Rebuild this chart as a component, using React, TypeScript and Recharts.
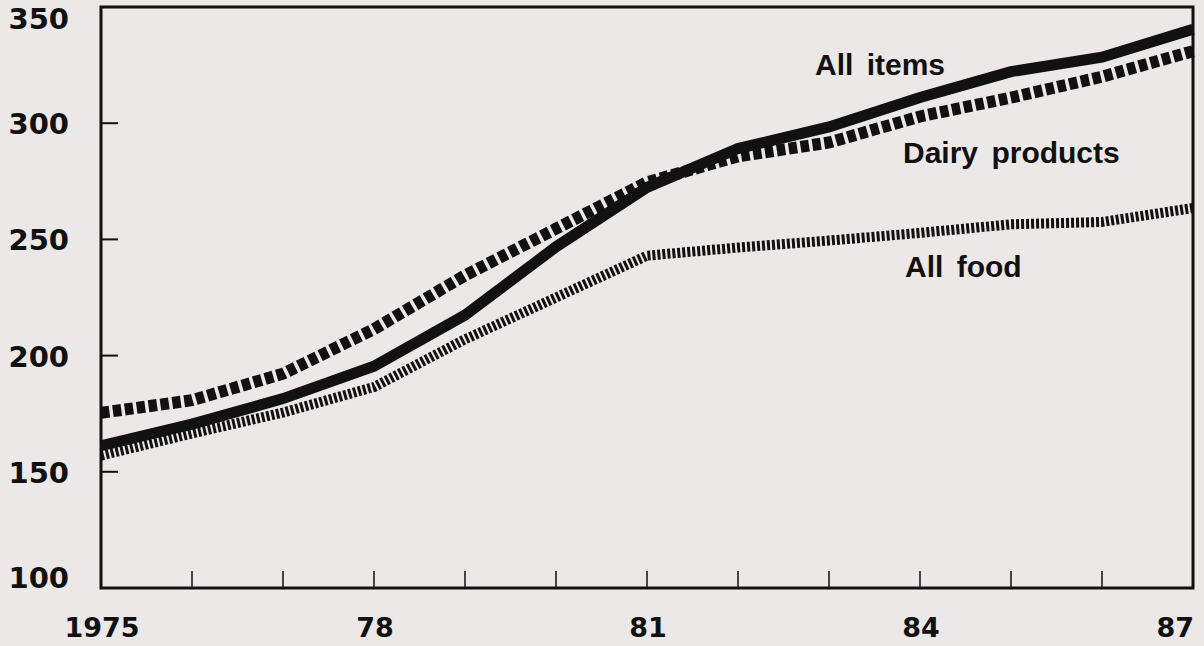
import React from "react";
import { LineChart, Line, XAxis, YAxis, ReferenceArea } from "recharts";

const years = [1975, 1976, 1977, 1978, 1979, 1980, 1981, 1982, 1983, 1984, 1985, 1986, 1987];
const allItems = [161.2, 170.5, 181.5, 195.4, 217.4, 246.8, 272.4, 289.1, 298.4, 311.1, 322.2, 328.4, 340.4];
const dairyProducts = [175.4, 180.8, 192.2, 211.4, 234.5, 254.6, 274.6, 285.7, 291.7, 302.9, 311.0, 320.0, 331.0];
const allFood = [157.0, 166.5, 175.5, 186.5, 207.0, 225.0, 243.0, 246.5, 249.5, 252.8, 256.5, 257.5, 263.5];
const yTicks = [100, 150, 200, 250, 300, 350];
const xTickLabels: Record<number, string> = { 1975: "1975", 1978: "78", 1981: "81", 1984: "84", 1987: "87" };

const data = years.map((y, i) => ({
  year: y,
  items: allItems[i],
  dairy: dairyProducts[i],
  food: allFood[i],
}));

const INK = "#111111";
const TICK_FONT = "'DejaVu Sans', Verdana, sans-serif";

const YTick = (props: any) => {
  const { y, payload } = props;
  const cy = Math.min(Math.max(y, 18), 577);
  return (
    <g>
      <line x1={101} x2={118} y1={y} y2={y} stroke={INK} strokeWidth={2} />
      <text
        x={69}
        y={cy + 11}
        textAnchor="end"
        fill={INK}
        fontFamily={TICK_FONT}
        fontWeight="bold"
        fontSize={29}
      >
        {payload.value}
      </text>
    </g>
  );
};

const XTick = (props: any) => {
  const { x, payload } = props;
  const label = xTickLabels[payload.value];
  if (!label) return <g />;
  const isLast = payload.value === 1987;
  return (
    <text
      x={isLast ? 1194 : x + 1}
      y={637}
      textAnchor={isLast ? "end" : "middle"}
      fill={INK}
      fontFamily={TICK_FONT}
      fontWeight="bold"
      fontSize={27}
    >
      {label}
    </text>
  );
};

const labelStyle: React.CSSProperties = {
  fontFamily: "'Liberation Sans', Arial, sans-serif",
  fontWeight: "bold",
  fontSize: 30,
  wordSpacing: 5,
};

export default function App() {
  return (
    <div
      style={{
        position: "absolute",
        left: 0,
        top: 0,
        width: 1204,
        height: 646,
        background: "#ece8e7",
        overflow: "hidden",
      }}
    >
      <LineChart
        width={1204}
        height={646}
        data={data}
        margin={{ top: 7, right: 11, bottom: 0, left: 0 }}
      >
        <XAxis
          dataKey="year"
          type="number"
          domain={[1975, 1987]}
          ticks={years}
          interval={0}
          height={58}
          axisLine={false}
          tickSize={-17}
          tickLine={{ stroke: INK, strokeWidth: 1.5 }}
          tick={<XTick />}
        />
        <YAxis
          type="number"
          domain={[100, 350]}
          ticks={yTicks}
          interval={0}
          width={101}
          axisLine={false}
          tickLine={false}
          tick={<YTick />}
        />
        <Line
          dataKey="food"
          type="linear"
          stroke={INK}
          strokeWidth={10}
          strokeDasharray="3 2"
          dot={false}
          activeDot={false}
          isAnimationActive={false}
        />
        <Line
          dataKey="dairy"
          type="linear"
          stroke={INK}
          strokeWidth={12}
          strokeDasharray="8.5 3.5"
          dot={false}
          activeDot={false}
          isAnimationActive={false}
        />
        <Line
          dataKey="items"
          type="linear"
          stroke={INK}
          strokeWidth={11}
          dot={false}
          activeDot={false}
          isAnimationActive={false}
        />
        <ReferenceArea
          x1={1975}
          x2={1987}
          y1={100}
          y2={350}
          fill="none"
          fillOpacity={0}
          stroke={INK}
          strokeWidth={3}
          ifOverflow="visible"
        />
      </LineChart>
      <svg
        width={1204}
        height={646}
        style={{ position: "absolute", left: 0, top: 0, pointerEvents: "none" }}
      >
        <text x={815} y={75} fill={INK} style={labelStyle}>All items</text>
        <text x={903} y={163} fill={INK} style={labelStyle}>Dairy products</text>
        <text x={905} y={277} fill={INK} style={labelStyle}>All food</text>
      </svg>
    </div>
  );
}
